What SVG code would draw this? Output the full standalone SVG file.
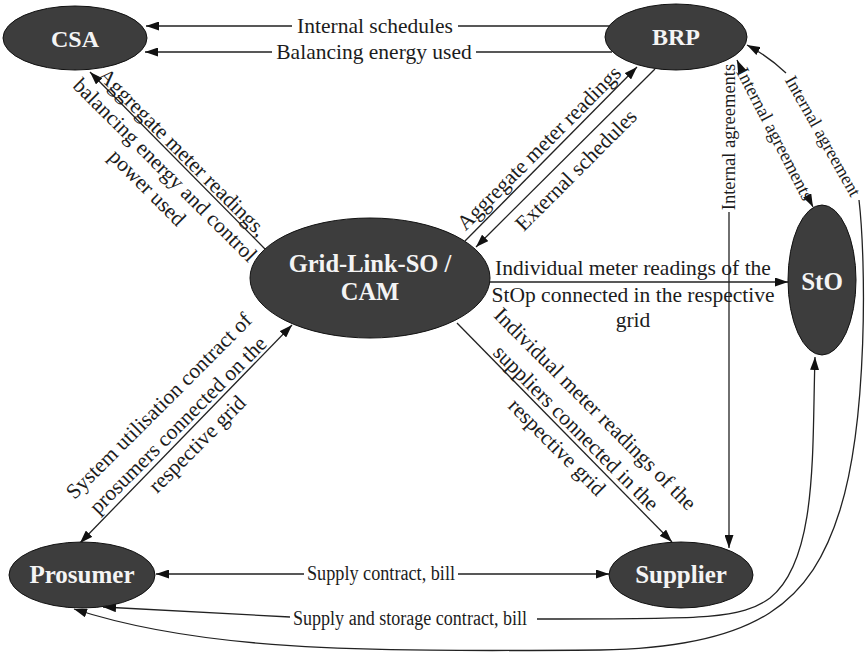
<svg xmlns="http://www.w3.org/2000/svg" width="868" height="658" viewBox="0 0 868 658">
<defs>
<marker id="ah" viewBox="0 0 13 9" refX="13" refY="4.5" markerWidth="13" markerHeight="9" markerUnits="userSpaceOnUse" orient="auto-start-reverse"><path d="M0,0 L13,4.5 L0,9 z" fill="#111"/></marker>
<style>
.e{fill:none;stroke:#222;stroke-width:1.3}
.a{marker-end:url(#ah)}
.b{marker-start:url(#ah);marker-end:url(#ah)}
.t{font-family:"Liberation Serif","Times New Roman",serif;font-size:21.5px;fill:#1c1c1c;text-anchor:middle}
.s{font-size:18.5px}
.n{fill:#3d3d3d;stroke:#111;stroke-width:1}
.nt{font-family:"Liberation Serif",serif;font-weight:700;fill:#f4f4f4;text-anchor:middle}
</style>
</defs>
<rect width="868" height="658" fill="#fff"/>
<g id="connectors">
<path class="e a" d="M609,26 L458,26 M292,26 L146,26"/>
<path class="e a" d="M612,52 L476,52 M272,52 L145,52"/>
<path class="e a" d="M265,249 L90,72"/>
<path class="e a" d="M465,241 L637,67"/>
<path class="e a" d="M655,69 L476,247"/>
<path class="e a" d="M490,282 L788,282"/>
<path class="e a" d="M457,323 L672,542"/>
<path class="e b" d="M80,543 L292,325"/>
<path class="e" d="M156,574 L304,574 M458,574 L609,574" style="marker-start:url(#ah);marker-end:url(#ah)"/>
<path class="e a" d="M729,212 L729,548"/>
<path class="e a" d="M741,69 L737,60"/>
<path class="e a" d="M809,199 L813,207"/>
<path class="e a" d="M786,73 Q768,56 747,45"/>
<path class="e a" d="M859,200 C866,260 868,420 840,510 C812,600 760,648 600,650 C350,652 200,650 74,609"/>
<path class="e" d="M815,357 C812,450 818,560 770,598 C740,620 700,619 537,619" style="marker-start:url(#ah)"/>
<path class="e a" d="M290,617 L103,607"/>
<text class="t" x="375" y="33">Internal schedules</text>
<text class="t" x="374" y="59">Balancing energy used</text>
<g transform="translate(165,170) rotate(45)">
<text class="t" x="0" y="-18">Aggregate meter readings,</text>
<text class="t" x="0" y="7">balancing energy and control</text>
<text class="t" x="0" y="32">power used</text>
</g>
<text class="t" transform="translate(539,148) rotate(-45)" x="0" y="7">Aggregate meter readings</text>
<text class="t" transform="translate(576,170) rotate(-45)" x="0" y="7">External schedules</text>
<text class="t" x="633" y="275">Individual meter readings of the</text>
<text class="t" x="633" y="302">StOp connected in the respective</text>
<text class="t" x="633" y="327">grid</text>
<g transform="translate(576,428) rotate(45)">
<text class="t" x="0" y="-20">Individual meter readings of the</text>
<text class="t" x="0" y="7">suppliers connected in the</text>
<text class="t" x="0" y="34">respective grid</text>
</g>
<g transform="translate(178,425) rotate(-45)">
<text class="t" x="0" y="-20">System utilisation contract of</text>
<text class="t" x="0" y="7">prosumers connected on the</text>
<text class="t" x="0" y="34">respective grid</text>
</g>
<text class="t s" transform="translate(729,137) rotate(-90)" x="0" y="6">Internal agreements</text>
<text class="t s" transform="translate(775,134) rotate(62.7)" x="0" y="6">Internal agreements</text>
<text class="t" style="font-size:18px" transform="translate(823,136) rotate(60.6)" x="0" y="6">Internal agreement</text>
<text class="t" style="font-size:20px" x="381" y="580" textLength="148" lengthAdjust="spacingAndGlyphs">Supply contract, bill</text>
<text class="t" style="font-size:20px" x="410" y="625" textLength="234" lengthAdjust="spacingAndGlyphs">Supply and storage contract, bill</text>
</g>
<g id="CSA"><ellipse class="n" cx="75" cy="38" rx="72" ry="32"/><text class="nt" x="75" y="47" font-size="24">CSA</text></g>
<g id="BRP"><ellipse class="n" cx="676" cy="37" rx="71" ry="33"/><text class="nt" x="676" y="45" font-size="24">BRP</text></g>
<g id="GridLink"><ellipse class="n" cx="370" cy="278" rx="120" ry="60"/><text class="nt" x="370" y="272" font-size="24.5">Grid-Link-SO /</text><text class="nt" x="370" y="300" font-size="24.5">CAM</text></g>
<g id="StO"><ellipse class="n" cx="822" cy="280" rx="34" ry="75"/><text class="nt" x="822" y="290" font-size="25">StO</text></g>
<g id="Prosumer"><ellipse class="n" cx="82" cy="575" rx="73" ry="33"/><text class="nt" x="82" y="583" font-size="25">Prosumer</text></g>
<g id="Supplier"><ellipse class="n" cx="681" cy="575" rx="72" ry="33"/><text class="nt" x="681" y="583" font-size="25">Supplier</text></g>
</svg>
